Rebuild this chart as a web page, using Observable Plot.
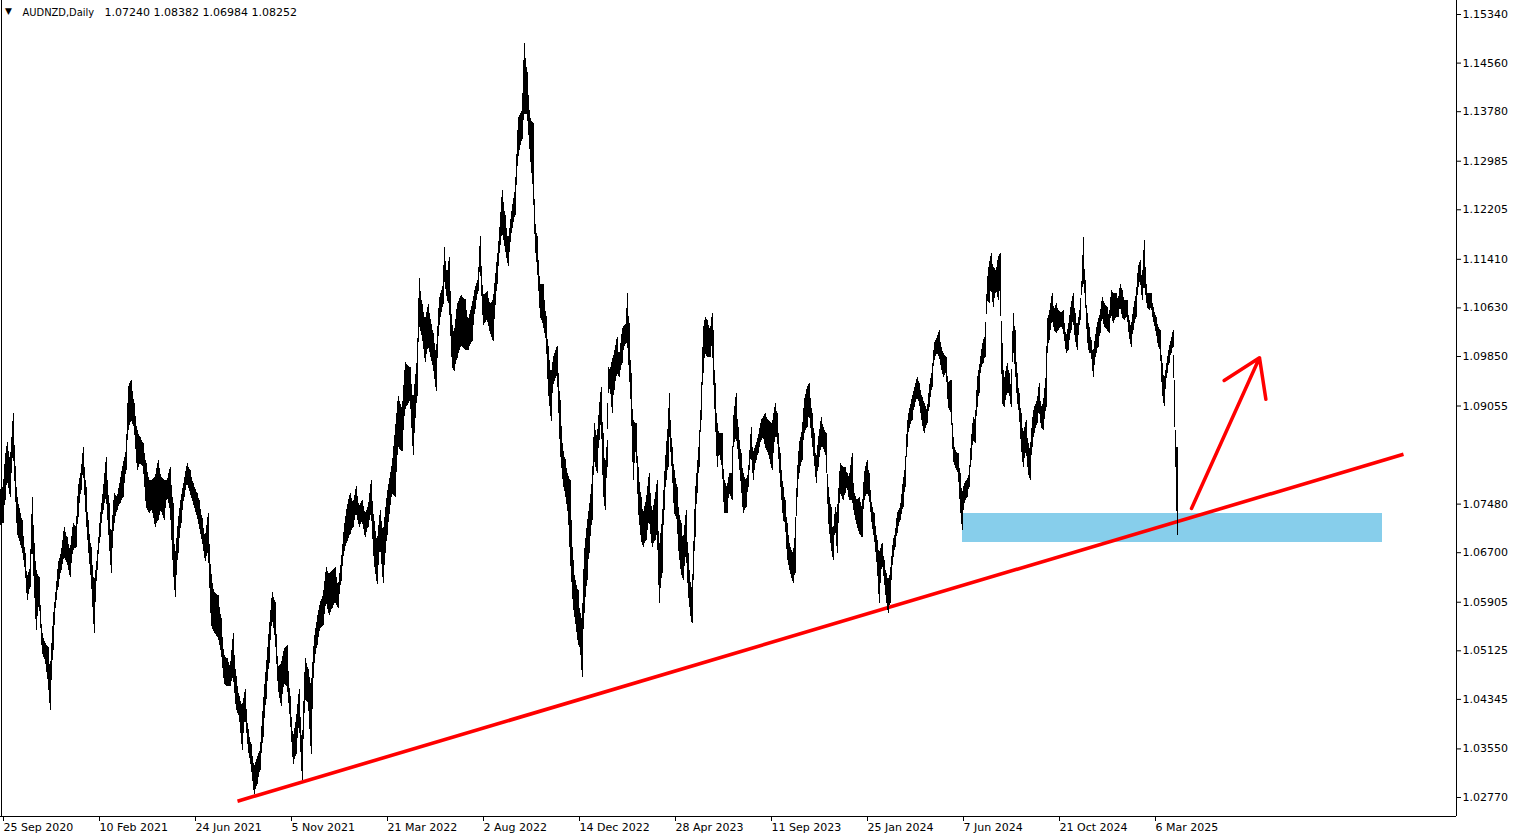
<!DOCTYPE html>
<html>
<head>
<meta charset="utf-8">
<script src="https://cdn.jsdelivr.net/npm/d3@7"></script>
<script src="https://cdn.jsdelivr.net/npm/@observablehq/plot@0.6"></script>
<style>
  html, body { margin: 0; padding: 0; background: #fff; overflow: hidden; }
  #chart { width: 1519px; height: 840px; }
</style>
</head>
<body>
<div id="chart"></div>
<script>
// ---- header / quote ----
const symbol = "AUDNZD";
const timeframe = "Daily";
const ohlc = [1.07240, 1.08382, 1.06984, 1.08252]; // open, high, low, close of last bar

// ---- price series (bar index, daily range envelope) ----
const bars = [
  0,3,5,7,10,13,17,22,25,27,
  30,32,36,39,42,45,48,50,53,56,
  58,61,64,67,70,73,76,78,81,83,
  86,88,91,94,97,100,103,106,109,111,
  114,117,120,123,126,128,131,134,137,140,
  143,146,149,152,155,158,161,164,167,170,
  173,175,178,181,184,187,190,193,197,199,
  202,205,208,211,214,218,221,224,227,230,
  233,236,239,242,245,248,251,254,257,260,
  263,266,269,272,275,278,281,284,287,290,
  293,296,299,302,305,308,311,314,317,320,
  323,326,329,332,335,338,341,344,347,350,
  353,356,359,362,365,368,371,374,377,380,
  383,387,392,395,398,402,405,410,413,417,
  419,422,425,428,433,436,439,443,444,447,
  449,452,454,457,461,465,468,472,475,478,
  480,483,487,490,493,497,498,502,505,508,
  512,515,518,522,524,527,530,533,535,537,
  540,543,546,548,551,553,557,560,563,565,
  568,570,573,575,578,580,582,584,587,589,
  592,594,597,599,601,603,605,607,608,610,
  612,614,617,619,622,623,626,627,629,631,
  633,636,638,641,643,646,649,652,655,657,
  659,662,664,666,668,669,672,674,677,678,
  681,683,686,688,691,692,695,697,699,701,
  703,705,707,710,712,713,715,717,719,722,
  724,727,729,732,733,736,738,741,743,746,
  748,751,753,756,758,761,763,765,768,772,
  775,777,780,783,785,787,790,793,795,797,
  799,802,804,807,809,812,814,816,818,821,
  823,826,828,831,833,835,837,840,843,845,
  847,849,852,854,857,859,862,864,867,869,
  872,874,877,879,882,884,886,888,890,893,
  895,897,900,903,905,907,909,912,914,917,
  919,922,924,927,929,932,934,937,939,941,
  943,946,948,951,953,955,958,960,962,964,
  967,969,971,973,975,977,979,981,983,985,
  987,989,991,993,996,998,1000,1002,1004,1007,
  1009,1011,1013,1015,1017,1019,1021,1023,1026,1028,
  1030,1032,1034,1037,1039,1041,1043,1046,1047,1049,
  1052,1054,1056,1058,1061,1063,1066,1068,1071,1073,
  1075,1077,1080,1082,1083,1085,1087,1089,1091,1093,
  1096,1098,1100,1102,1104,1107,1109,1111,1113,1116,
  1118,1120,1122,1124,1127,1129,1131,1133,1136,1138,
  1140,1142,1144,1147,1149,1151,1153,1156,1158,1160,
  1162,1164,1167,1169,1171,1173,1174,1176,1177
];
const highs = [
  1.0770,1.0775,1.0823,1.0847,1.0818,1.0893,1.0759,1.0722,1.0669,1.0630,
  1.0646,1.0759,1.0641,1.0630,1.0540,1.0524,1.0518,1.0481,1.0566,1.0614,
  1.0653,1.0669,1.0711,1.0694,1.0674,1.0717,1.0711,1.0775,1.0802,1.0839,
  1.0775,1.0722,1.0678,1.0621,1.0662,1.0727,1.0770,1.0823,1.0749,1.0694,
  1.0765,1.0759,1.0786,1.0813,1.0834,1.0935,1.0947,1.0910,1.0866,1.0855,
  1.0845,1.0813,1.0786,1.0786,1.0791,1.0818,1.0791,1.0786,1.0786,1.0807,
  1.0749,1.0662,1.0722,1.0759,1.0786,1.0813,1.0802,1.0781,1.0765,1.0754,
  1.0725,1.0694,1.0733,1.0635,1.0606,1.0601,1.0564,1.0505,1.0500,1.0487,
  1.0540,1.0471,1.0439,1.0423,1.0450,1.0386,1.0362,1.0325,1.0341,1.0353,
  1.0428,1.0487,1.0548,1.0606,1.0590,1.0487,1.0492,1.0516,1.0521,1.0439,
  1.0373,1.0402,1.0450,1.0362,1.0500,1.0483,1.0455,1.0532,1.0564,1.0590,
  1.0601,1.0646,1.0635,1.0640,1.0646,1.0616,1.0656,1.0711,1.0744,1.0765,
  1.0749,1.0776,1.0744,1.0754,1.0733,1.0744,1.0786,1.0720,1.0688,1.0738,
  1.0703,1.0765,1.0813,1.0866,1.0921,1.0900,1.0975,1.0967,1.0914,1.0982,
  1.1110,1.1068,1.1043,1.1068,1.1022,1.0989,1.1076,1.1101,1.1160,1.1116,
  1.1144,1.1035,1.1022,1.1068,1.1083,1.1076,1.1043,1.1068,1.1095,1.1110,
  1.1178,1.1083,1.1089,1.1068,1.1076,1.1144,1.1157,1.1252,1.1211,1.1171,
  1.1224,1.1252,1.1367,1.1380,1.1487,1.1441,1.1367,1.1359,1.1197,1.1178,
  1.1101,1.1101,1.1049,1.1001,1.0955,1.0982,1.1001,1.0914,1.0832,1.0819,
  1.0792,1.0786,1.0657,1.0625,1.0609,1.0572,1.0561,1.0669,1.0717,1.0742,
  1.0786,1.0877,1.0855,1.0903,1.0935,1.0861,1.0807,1.0850,1.0967,1.0963,
  1.0979,1.0990,1.1016,1.0984,1.1027,1.1032,1.1038,1.1086,1.1038,1.0958,
  1.0882,1.0877,1.0807,1.0759,1.0733,1.0754,1.0797,1.0733,1.0759,1.0786,
  1.0678,1.0722,1.0786,1.0839,1.0877,1.0926,1.0839,1.0802,1.0775,1.0742,
  1.0717,1.0690,1.0738,1.0669,1.0614,1.0609,1.0765,1.0807,1.0850,1.0914,
  1.1027,1.1048,1.1043,1.1027,1.1054,1.1027,1.0942,1.0877,1.0861,1.0861,
  1.0786,1.0775,1.0797,1.0797,1.0882,1.0926,1.0871,1.0829,1.0797,1.0786,
  1.0797,1.0871,1.0829,1.0845,1.0855,1.0882,1.0887,1.0893,1.0882,1.0877,
  1.0909,1.0893,1.0829,1.0775,1.0754,1.0717,1.0678,1.0669,1.0701,1.0797,
  1.0845,1.0866,1.0914,1.0935,1.0942,1.0893,1.0861,1.0818,1.0850,1.0887,
  1.0871,1.0861,1.0775,1.0742,1.0701,1.0742,1.0733,1.0813,1.0807,1.0807,
  1.0797,1.0791,1.0829,1.0765,1.0754,1.0759,1.0742,1.0797,1.0818,1.0797,
  1.0742,1.0733,1.0690,1.0669,1.0685,1.0657,1.0637,1.0625,1.0637,1.0690,
  1.0701,1.0733,1.0742,1.0786,1.0807,1.0877,1.0898,1.0919,1.0931,1.0952,
  1.0942,1.0919,1.0910,1.0898,1.0935,1.0963,1.1006,1.1016,1.1027,1.1000,
  1.0990,1.0984,1.0942,1.0947,1.0855,1.0834,1.0829,1.0797,1.0765,1.0781,
  1.0786,1.0797,1.0850,1.0887,1.0882,1.0947,1.0967,1.0990,1.1011,1.1016,
  1.1107,1.1134,1.1150,1.1128,1.1123,1.1144,1.1150,1.1006,1.0947,1.0974,
  1.0958,1.0935,1.1054,1.1027,1.0958,1.0926,1.0893,1.0861,1.0882,1.0845,
  1.0834,1.0882,1.0903,1.0914,1.0942,1.0903,1.0909,1.0958,1.1043,1.1054,
  1.1086,1.1059,1.1070,1.1059,1.1054,1.1059,1.1016,1.1032,1.1070,1.1086,
  1.1054,1.1032,1.1064,1.1118,1.1176,1.1107,1.1054,1.1032,1.1011,1.0990,
  1.1027,1.1043,1.1054,1.1080,1.1070,1.1064,1.1048,1.1091,1.1086,1.1086,
  1.1075,1.1101,1.1091,1.1075,1.1075,1.1043,1.1032,1.1059,1.1086,1.1128,
  1.1139,1.1107,1.1171,1.1086,1.1086,1.1086,1.1064,1.1048,1.1032,1.1027,
  1.0974,1.0947,1.0979,1.1000,1.1011,1.1027,1.0947,1.0839,1.08382
];
const lows = [
  1.0714,1.0717,1.0754,1.0786,1.0759,1.0834,1.0701,1.0674,1.0641,1.0593,
  1.0614,1.0685,1.0545,1.0589,1.0508,1.0497,1.0460,1.0417,1.0513,1.0593,
  1.0614,1.0641,1.0662,1.0653,1.0630,1.0674,1.0678,1.0727,1.0770,1.0802,
  1.0722,1.0678,1.0625,1.0540,1.0641,1.0694,1.0738,1.0759,1.0685,1.0637,
  1.0717,1.0738,1.0749,1.0759,1.0802,1.0866,1.0882,1.0870,1.0802,1.0813,
  1.0807,1.0742,1.0733,1.0738,1.0711,1.0722,1.0738,1.0722,1.0759,1.0738,
  1.0641,1.0598,1.0669,1.0717,1.0759,1.0781,1.0765,1.0749,1.0727,1.0711,
  1.0688,1.0656,1.0672,1.0553,1.0542,1.0532,1.0510,1.0460,1.0455,1.0455,
  1.0471,1.0418,1.0407,1.0353,1.0407,1.0353,1.0325,1.0282,1.0298,1.0321,
  1.0373,1.0434,1.0492,1.0564,1.0532,1.0450,1.0423,1.0460,1.0455,1.0402,
  1.0330,1.0346,1.0396,1.0304,1.0434,1.0428,1.0346,1.0492,1.0521,1.0548,
  1.0553,1.0590,1.0569,1.0580,1.0590,1.0580,1.0624,1.0672,1.0688,1.0699,
  1.0711,1.0733,1.0711,1.0720,1.0694,1.0711,1.0733,1.0651,1.0619,1.0681,
  1.0621,1.0698,1.0765,1.0759,1.0839,1.0832,1.0900,1.0914,1.0826,1.0921,
  1.1035,1.1016,1.0975,1.1001,1.0967,1.0928,1.1035,1.1068,1.1110,1.1076,
  1.1068,1.0967,1.0961,1.0982,1.1001,1.0995,1.0995,1.1009,1.1061,1.1089,
  1.1129,1.1035,1.1043,1.1022,1.1009,1.1101,1.1129,1.1184,1.1157,1.1129,
  1.1190,1.1211,1.1306,1.1333,1.1374,1.1374,1.1306,1.1252,1.1157,1.1129,
  1.1049,1.1035,1.1009,1.0928,1.0881,1.0940,1.0955,1.0832,1.0778,1.0765,
  1.0731,1.0662,1.0582,1.0561,1.0522,1.0516,1.0470,1.0572,1.0625,1.0669,
  1.0722,1.0818,1.0797,1.0850,1.0882,1.0765,1.0738,1.0807,1.0926,1.0935,
  1.0893,1.0931,1.0958,1.0952,1.0974,1.0995,1.1006,1.1011,1.0958,1.0903,
  1.0786,1.0839,1.0738,1.0690,1.0678,1.0690,1.0722,1.0678,1.0690,1.0701,
  1.0589,1.0637,1.0738,1.0786,1.0807,1.0866,1.0797,1.0733,1.0722,1.0678,
  1.0637,1.0625,1.0669,1.0604,1.0561,1.0556,1.0694,1.0765,1.0807,1.0882,
  1.0958,1.0990,1.0984,1.0984,1.1006,1.0958,1.0882,1.0807,1.0829,1.0807,
  1.0733,1.0733,1.0765,1.0754,1.0839,1.0855,1.0829,1.0775,1.0733,1.0742,
  1.0775,1.0829,1.0786,1.0818,1.0829,1.0850,1.0855,1.0839,1.0829,1.0802,
  1.0855,1.0855,1.0786,1.0722,1.0717,1.0662,1.0637,1.0621,1.0637,1.0759,
  1.0797,1.0818,1.0861,1.0871,1.0893,1.0845,1.0818,1.0781,1.0807,1.0839,
  1.0839,1.0823,1.0722,1.0678,1.0657,1.0711,1.0669,1.0765,1.0754,1.0765,
  1.0775,1.0754,1.0754,1.0733,1.0711,1.0701,1.0694,1.0754,1.0765,1.0759,
  1.0711,1.0694,1.0646,1.0589,1.0653,1.0625,1.0593,1.0572,1.0589,1.0662,
  1.0678,1.0701,1.0722,1.0742,1.0775,1.0839,1.0870,1.0882,1.0903,1.0919,
  1.0910,1.0877,1.0861,1.0877,1.0903,1.0935,1.0979,1.0990,1.0984,1.0967,
  1.0952,1.0958,1.0903,1.0893,1.0818,1.0807,1.0797,1.0742,1.0706,1.0749,
  1.0759,1.0775,1.0818,1.0850,1.0845,1.0903,1.0926,1.0967,1.0974,1.0984,
  1.1075,1.1070,1.1095,1.1064,1.1091,1.1075,1.1095,1.0909,1.0903,1.0926,
  1.0926,1.0903,1.1000,1.0963,1.0914,1.0893,1.0839,1.0807,1.0834,1.0797,
  1.0786,1.0839,1.0861,1.0877,1.0898,1.0871,1.0866,1.0903,1.0990,1.1011,
  1.1043,1.1027,1.1022,1.1027,1.1032,1.1027,1.0990,1.0995,1.1027,1.1043,
  1.1011,1.0995,1.1043,1.1095,1.1107,1.1080,1.1011,1.0990,1.0990,1.0952,
  1.0990,1.1000,1.1022,1.1048,1.1032,1.1027,1.1022,1.1054,1.1038,1.1048,
  1.1048,1.1064,1.1048,1.1043,1.1048,1.1016,1.1000,1.1027,1.1048,1.1095,
  1.1107,1.1075,1.1101,1.1064,1.1059,1.1064,1.1043,1.1022,1.1000,1.0995,
  1.0926,1.0905,1.0958,1.0974,1.0990,1.1000,1.0903,1.0775,1.06984
];

// ---- axes ----
const xTickBars = [3, 99, 195, 291, 387, 483, 579, 675, 771, 867, 963, 1059, 1155];
const xTickLabels = ["25 Sep 2020", "10 Feb 2021", "24 Jun 2021", "5 Nov 2021", "21 Mar 2022",
  "2 Aug 2022", "14 Dec 2022", "28 Apr 2023", "11 Sep 2023", "25 Jan 2024",
  "7 Jun 2024", "21 Oct 2024", "6 Mar 2025"];
const yTicks = [1.15340, 1.14560, 1.13780, 1.12985, 1.12205, 1.11410, 1.10630, 1.09850,
  1.09055, 1.07480, 1.06700, 1.05905, 1.05125, 1.04345, 1.03550, 1.02770];
const xDomain = [0, 1456];
const yDomain = [1.02465, 1.15565];

// ---- drawn analysis objects ----
const trendBars = [237, 1403];
const trendPrices = [1.0271, 1.0828];
const zoneBars = [962, 1382];
const zonePrices = [1.0687, 1.0733];
const arrowBars = [1191, 1259];
const arrowPrices = [1.0741, 1.0983];

// ---- build tables ----
if (bars.length !== highs.length || bars.length !== lows.length) {
  document.body.insertAdjacentHTML("afterbegin", `<pre>length mismatch ${bars.length} ${highs.length} ${lows.length}</pre>`);
}
const series = bars.map((b, i) => ({bar: b, high: highs[i], low: lows[i]}));
const trend = trendBars.map((b, i) => ({bar: b, price: trendPrices[i]}));
const zone = [{b1: zoneBars[0], b2: zoneBars[1], p1: zonePrices[0], p2: zonePrices[1]}];
const arrow = [{b1: arrowBars[0], p1: arrowPrices[0], b2: arrowBars[1], p2: arrowPrices[1]}];
const fmt5 = d3.format(".5f");

const chart = Plot.plot({
  width: 1519,
  height: 840,
  marginLeft: 0,
  marginRight: 63,
  marginTop: 0,
  marginBottom: 24,
  x: {type: "linear", domain: xDomain, label: null},
  y: {type: "linear", domain: yDomain, label: null},
  style: {fontFamily: "'DejaVu Sans', sans-serif", fontSize: "11px", background: "#ffffff", color: "#000", overflow: "visible"},
  marks: [
    Plot.rect(zone, {x1: "b1", x2: "b2", y1: "p1", y2: "p2", fill: "#87ceeb", shapeRendering: "crispEdges"}),
    Plot.line(trend, {x: "bar", y: "price", stroke: "#ff0000", strokeWidth: 3.6, strokeLinecap: "butt"}),
    Plot.arrow(arrow, {x1: "b1", y1: "p1", x2: "b2", y2: "p2", stroke: "#ff0000", strokeWidth: 3.5, headLength: 18, headAngle: 66}),
    Plot.areaY(series, {x: "bar", y1: "low", y2: "high", fill: "#000", curve: "linear", shapeRendering: "crispEdges"}),
    Plot.ruleX(series, {x: "bar", y1: "low", y2: "high", stroke: "#000", strokeWidth: 1, shapeRendering: "crispEdges"}),
    Plot.ruleX([xDomain[0]], {stroke: "#000", dx: 1, shapeRendering: "crispEdges"}),
    Plot.ruleX([xDomain[1]], {stroke: "#000", shapeRendering: "crispEdges"}),
    Plot.ruleY([yDomain[0]], {stroke: "#000", shapeRendering: "crispEdges"}),
    Plot.axisX({ticks: xTickBars, tickFormat: (d) => xTickLabels[xTickBars.indexOf(d)], tickSize: 5, tickPadding: 2,
      textAnchor: "start", label: null, fontSize: 11, fill: "#000", stroke: "#000"}),
    Plot.axisY({anchor: "right", ticks: yTicks, tickFormat: fmt5, tickSize: 4, tickPadding: 2,
      textAnchor: "start", label: null, fontSize: 11, fill: "#000", stroke: "#000"}),
    Plot.text(["\u25BC"], {frameAnchor: "top-left", dx: 8, dy: 11, textAnchor: "middle", lineAnchor: "middle", fontSize: 9, fill: "#000"}),
    Plot.text([`${symbol},${timeframe}`], {frameAnchor: "top-left", dx: 22, dy: 12, textAnchor: "start", lineAnchor: "middle",
      fontFamily: "'DejaVu Sans Condensed', 'DejaVu Sans', sans-serif", fontSize: 11, fill: "#000"}),
    Plot.text([ohlc.map(fmt5).join(" ")], {frameAnchor: "top-left", dx: 104, dy: 12, textAnchor: "start", lineAnchor: "middle",
      fontSize: 11, fill: "#000"}),
    Plot.text([ohlc[3]], {y: (d) => d, frameAnchor: "right", dx: 6, text: (d) => fmt5(d), textAnchor: "start", lineAnchor: "middle",
      fontSize: 11, fill: "#fff", ariaLabel: "last-price"})
  ]
});

document.getElementById("chart").append(chart);

// black price box behind the last-price label
d3.select(chart).selectAll('g[aria-label="last-price"] text').each(function () {
  const b = this.getBBox();
  const t = this.getAttribute("transform");
  const r = d3.select(this.parentNode).insert("rect", () => this)
    .attr("x", b.x - 5).attr("y", b.y).attr("width", b.width + 10).attr("height", b.height)
    .attr("fill", "#000");
  if (t) r.attr("transform", t);
});
</script>
</body>
</html>
